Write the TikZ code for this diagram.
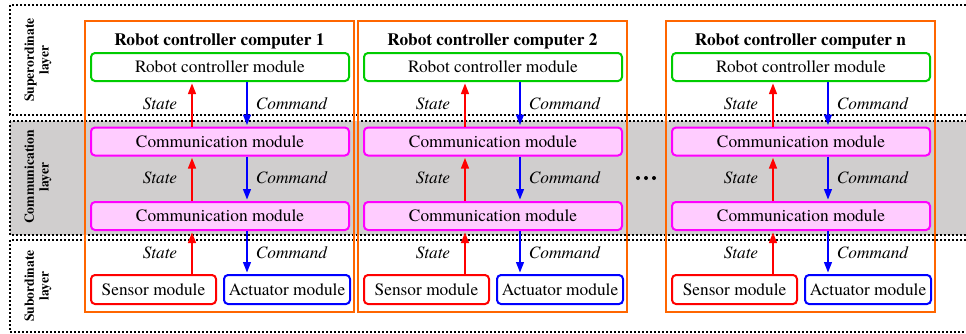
\documentclass[tikz,border=0pt]{standalone}
\usepackage{fontspec}
\setmainfont{TeX Gyre Termes}
\usetikzlibrary{arrows.meta}
\definecolor{boxorange}{RGB}{255,102,0}
\definecolor{modgreen}{RGB}{0,204,0}
\definecolor{modmagenta}{RGB}{255,0,255}
\definecolor{modpink}{RGB}{255,204,255}
\definecolor{bandgray}{RGB}{208,206,206}
\definecolor{statered}{RGB}{255,0,0}
\definecolor{cmdblue}{RGB}{0,0,255}

\begin{document}
\begin{tikzpicture}[x=0.75pt,y=-0.75pt,
  layerbox/.style={line width=1.5pt, dash pattern=on 1.5pt off 1.5pt},
  layerlabel/.style={rotate=90, align=center, inner sep=0pt,
    font=\bfseries\fontsize{10.2}{11}\selectfont},
  computer/.style={draw=boxorange, line width=1.5pt, minimum width=201.75pt,
    minimum height=218.25pt, inner sep=0pt},
  title/.style={font=\bfseries\fontsize{13}{15}\selectfont, inner sep=0pt},
  module/.style={draw, rounded corners=3pt, line width=1.5pt, inner sep=0pt,
    minimum height=21pt, font=\fontsize{13}{15}\selectfont},
  ctrlmod/.style={module, draw=modgreen, fill=white, minimum width=193.5pt},
  commmod/.style={module, draw=modmagenta, fill=modpink, minimum width=193.5pt},
  sensmod/.style={module, draw=statered, fill=white, minimum width=93.75pt, minimum height=21.75pt},
  actmod/.style={module, draw=cmdblue, fill=white, minimum width=94.5pt, minimum height=21.75pt},
  flowlabel/.style={font=\itshape\fontsize{13}{15}\selectfont, inner sep=0pt},
  statearr/.style={draw=statered, line width=1.5pt, shorten >=1pt,
    -{Triangle[length=8pt,width=5.8pt]}},
  cmdarr/.style={draw=cmdblue, line width=1.5pt, shorten >=1pt,
    -{Triangle[length=8pt,width=5.8pt]}},
  morecomp/.style={circle, fill=black, inner sep=0pt, minimum size=3pt}
]
\useasboundingbox (0,0) rectangle (966,333);

% the three layers, open to the right
\begin{scope}
  \clip (0,0) rectangle (966,333);
  \draw[layerbox] (10,5) rectangle (990,115);
  \draw[layerbox, fill=bandgray] (10,120.5) rectangle (990,235);
  \draw[layerbox] (10,240) rectangle (990,332);
\end{scope}

\node[layerlabel] (lsup) at (38,60) {Superordinate\\layer};
\node[layerlabel] (lcom) at (38,177) {Communication\\layer};
\node[layerlabel] (lsub) at (38,286) {Subordinate\\layer};

% one column per robot controller computer
\foreach \x/\n/\t in {85/1/1, 358/2/2, 666/3/n}{
  \node[computer] (pc\n) at (\x+134.5,166.5) {};
  \node[title] (tt\n) at (\x+134.5,41) {Robot controller computer \t};
  \node[ctrlmod] (rcm\n) at (\x+135,67) {Robot controller module};
  \node[commmod] (cma\n) at (\x+135,141.5) {Communication module};
  \node[commmod] (cmb\n) at (\x+135,216) {Communication module};
  \node[sensmod] (sen\n) at (\x+68.5,289.5) {Sensor module};
  \node[actmod] (act\n) at (\x+202,289.5) {Actuator module};

  \coordinate (rx\n) at (\x+107,0);
  \coordinate (bx\n) at (\x+162,0);

  \draw[statearr] (cma\n.north -| rx\n) -- (rcm\n.south -| rx\n);
  \draw[cmdarr] (rcm\n.south -| bx\n) -- (cma\n.north -| bx\n);
  \draw[statearr] (cmb\n.north -| rx\n) -- (cma\n.south -| rx\n);
  \draw[cmdarr] (cma\n.south -| bx\n) -- (cmb\n.north -| bx\n);
  \draw[statearr] (sen\n.north -| rx\n) -- (cmb\n.south -| rx\n);
  \draw[cmdarr] (cmb\n.south -| bx\n) -- (act\n.north -| bx\n);

  \node[flowlabel] (sa\n) at (\x+75,104) {State};
  \node[flowlabel] (ca\n) at (\x+206.5,104) {Command};
  \node[flowlabel] (sb\n) at (\x+75,178) {State};
  \node[flowlabel] (cb\n) at (\x+206.5,178) {Command};
  \node[flowlabel] (sc\n) at (\x+75,253) {State};
  \node[flowlabel] (cc\n) at (\x+206.5,253) {Command};
}

% further computers left out
\node[morecomp] (d1) at (638,178) {};
\node[morecomp] (d2) at (646,178) {};
\node[morecomp] (d3) at (654,178) {};
\end{tikzpicture}
\end{document}
